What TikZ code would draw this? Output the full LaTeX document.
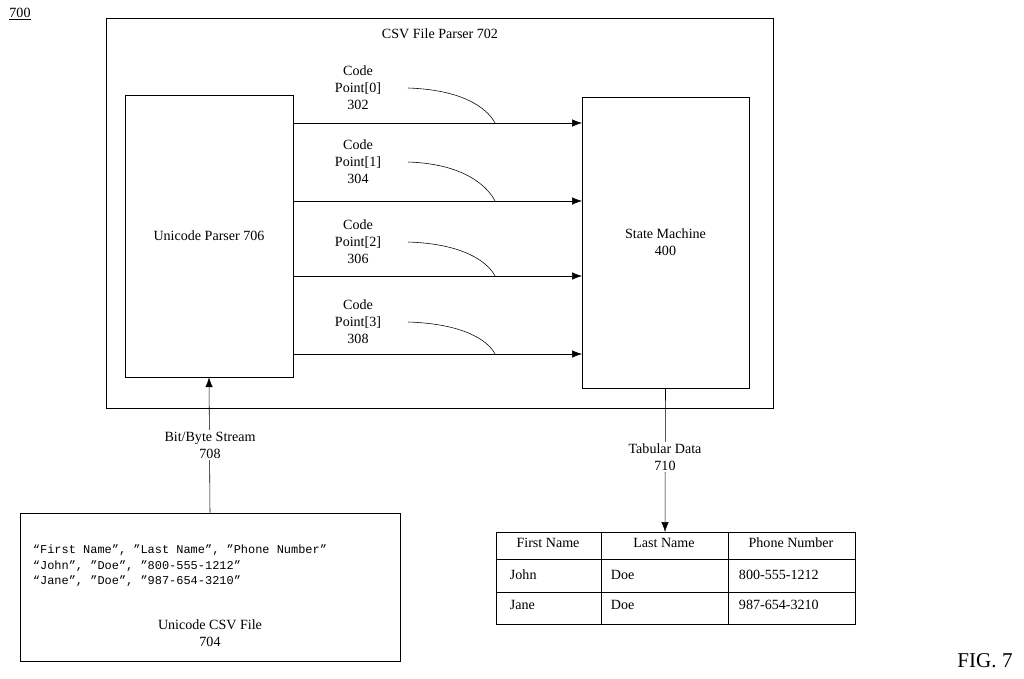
\documentclass[tikz,border=0pt]{standalone}
\usepackage{fontspec}
\setmainfont{Liberation Serif}
\setmonofont{Liberation Mono}
\usetikzlibrary{positioning,arrows.meta}
\begin{document}
\begin{tikzpicture}[x=0.025cm,y=-0.025cm,font=\fontsize{10}{12}\selectfont,
    box/.style={draw,inner sep=0pt},
    lbl/.style={align=center,fill=white,inner sep=1pt}]
      \useasboundingbox (0,0) rectangle (1024,678);
      % Define the boxes
      \node (n700) at (20,14) {\underline{700}};
      \draw (106,18) rectangle (773,408);
      \node (csv) at (440,34) {CSV File Parser 702};
      \node[box,minimum width=168*0.025cm,minimum height=282*0.025cm] (uni) at (209,236) {Unicode Parser 706};
      \node[box,minimum width=167*0.025cm,minimum height=291*0.025cm,align=center] (sm) at (665.5,242.5) {State Machine\\400};

      % Code point arrows and their labels
      \foreach \i/\y/\ly/\num in {0/123/88/302,1/201/162/304,2/276/242/306,3/354/322/308}{
        \coordinate (s\i) at (293,\y);
        \coordinate (e\i) at (582,\y);
        \draw[-{Latex[length=7pt]}] (s\i) -- (e\i);
        \node[align=center] (cp\i) at (358,\ly) {Code\\Point[\i]\\\num};
        \draw (408,\ly) .. controls (470,\ly+2) and (490,\y-10) .. (495,\y);
      }

      % Input file and stream
      \node[box,minimum width=380*0.025cm,minimum height=148*0.025cm] (file) at (210,587) {};
      \node[anchor=west,align=left,font=\ttfamily\fontsize{8.5}{11}\selectfont] (rows) at (28,566)
        {“First Name”, ”Last Name”, ”Phone Number”\\“John”, ”Doe”, ”800-555-1212”\\“Jane”, ”Doe”, ”987-654-3210”};
      \node[align=center] (filelbl) at (210,633) {Unicode CSV File\\704};
      \draw[-{Latex[length=7pt]}] (file.north) -- (uni.south);
      \node[lbl] (bits) at (210,445) {Bit/Byte Stream\\708};

      % Output table
      \draw[-{Latex[length=7pt]}] (sm.south) -- (665,532);
      \node[lbl] (tab) at (665,457) {Tabular Data\\710};
      \draw (496,532) rectangle (855,624);
      \draw (496,559) -- (855,559) (496,592) -- (855,592);
      \draw (601,532) -- (601,624) (728,532) -- (728,624);
      \node (h1) at (548,543) {First Name};
      \node (h2) at (664,543) {Last Name};
      \node (h3) at (791,543) {Phone Number};
      \node[anchor=west] (j1) at (505,575) {John};
      \node[anchor=west] (j2) at (606,575) {Doe};
      \node[anchor=west] (j3) at (734,575) {800-555-1212};
      \node[anchor=west] (d1) at (505,605) {Jane};
      \node[anchor=west] (d2) at (606,605) {Doe};
      \node[anchor=west] (d3) at (734,605) {987-654-3210};

      \node[font=\fontsize{15}{18}\selectfont] (fig) at (985,661) {FIG. 7};
\end{tikzpicture}
\end{document}
